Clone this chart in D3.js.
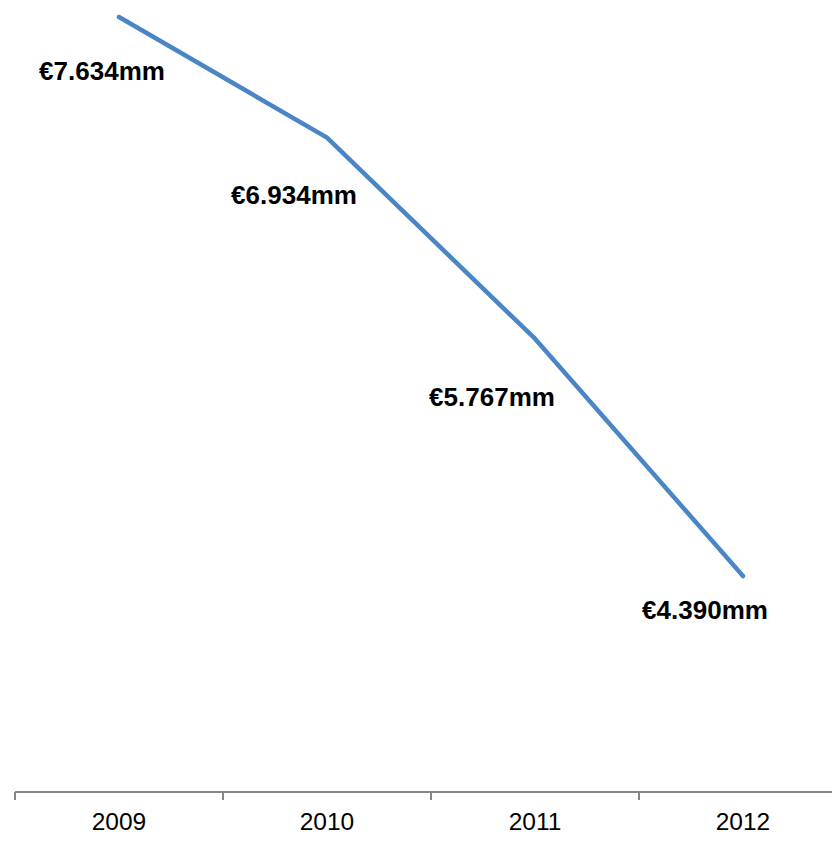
<!DOCTYPE html>
<html>
<head>
<meta charset="utf-8">
<script src="https://cdn.jsdelivr.net/npm/d3@7"></script>
<style>
  html, body { margin: 0; padding: 0; background: #fff; }
  svg { display: block; }
</style>
</head>
<body>
<svg id="chart" width="832" height="859"></svg>
<script>
// Annual totals, in € millions
const years = ["2009", "2010", "2011", "2012"];
const values = [7.634, 6.934, 5.767, 4.390];
const valueLabels = ["€7.634mm", "€6.934mm", "€5.767mm", "€4.390mm"];

const svg = d3.select("#chart");
const axisY = 792;

const x = d3.scaleBand().domain(years).range([15, 847]);
const y = d3.scaleLinear().domain([4.390, 7.634]).range([576, 17]);

const cx = d => x(d) + x.bandwidth() / 2;

// Category axis: baseline, ticks between categories, year labels
svg.append("line")
  .attr("x1", 15).attr("x2", 847)
  .attr("y1", axisY).attr("y2", axisY)
  .attr("stroke", "#868686").attr("stroke-width", 2);

const boundaries = years.map(d => x(d)).concat([x.range()[1]]);
svg.selectAll("line.tick")
  .data(boundaries)
  .join("line")
  .attr("class", "tick")
  .attr("x1", d => d).attr("x2", d => d)
  .attr("y1", axisY).attr("y2", axisY + 8)
  .attr("stroke", "#868686").attr("stroke-width", 2);

svg.selectAll("text.year")
  .data(years)
  .join("text")
  .attr("class", "year")
  .attr("x", d => cx(d))
  .attr("y", 830)
  .attr("text-anchor", "middle")
  .attr("font-family", "Liberation Sans, Arial, sans-serif")
  .attr("font-size", 24.5)
  .attr("fill", "#000")
  .text(d => d);

// Series line
const line = d3.line()
  .x((d, i) => cx(years[i]))
  .y(d => y(d));

svg.append("path")
  .datum(values)
  .attr("d", line)
  .attr("fill", "none")
  .attr("stroke", "#4a86c5")
  .attr("stroke-width", 4.5)
  .attr("stroke-linecap", "round")
  .attr("stroke-linejoin", "round");

// Data labels below each point
const labelDx = [-17, -33, -43, -38];
const labelDy = [63, 66, 67, 43];
svg.selectAll("text.value")
  .data(values)
  .join("text")
  .attr("class", "value")
  .attr("x", (d, i) => cx(years[i]) + labelDx[i])
  .attr("y", (d, i) => y(d) + labelDy[i])
  .attr("text-anchor", "middle")
  .attr("font-family", "Liberation Sans, Arial, sans-serif")
  .attr("font-weight", "bold")
  .attr("font-size", 26)
  .attr("fill", "#000")
  .text((d, i) => valueLabels[i]);
</script>
</body>
</html>
